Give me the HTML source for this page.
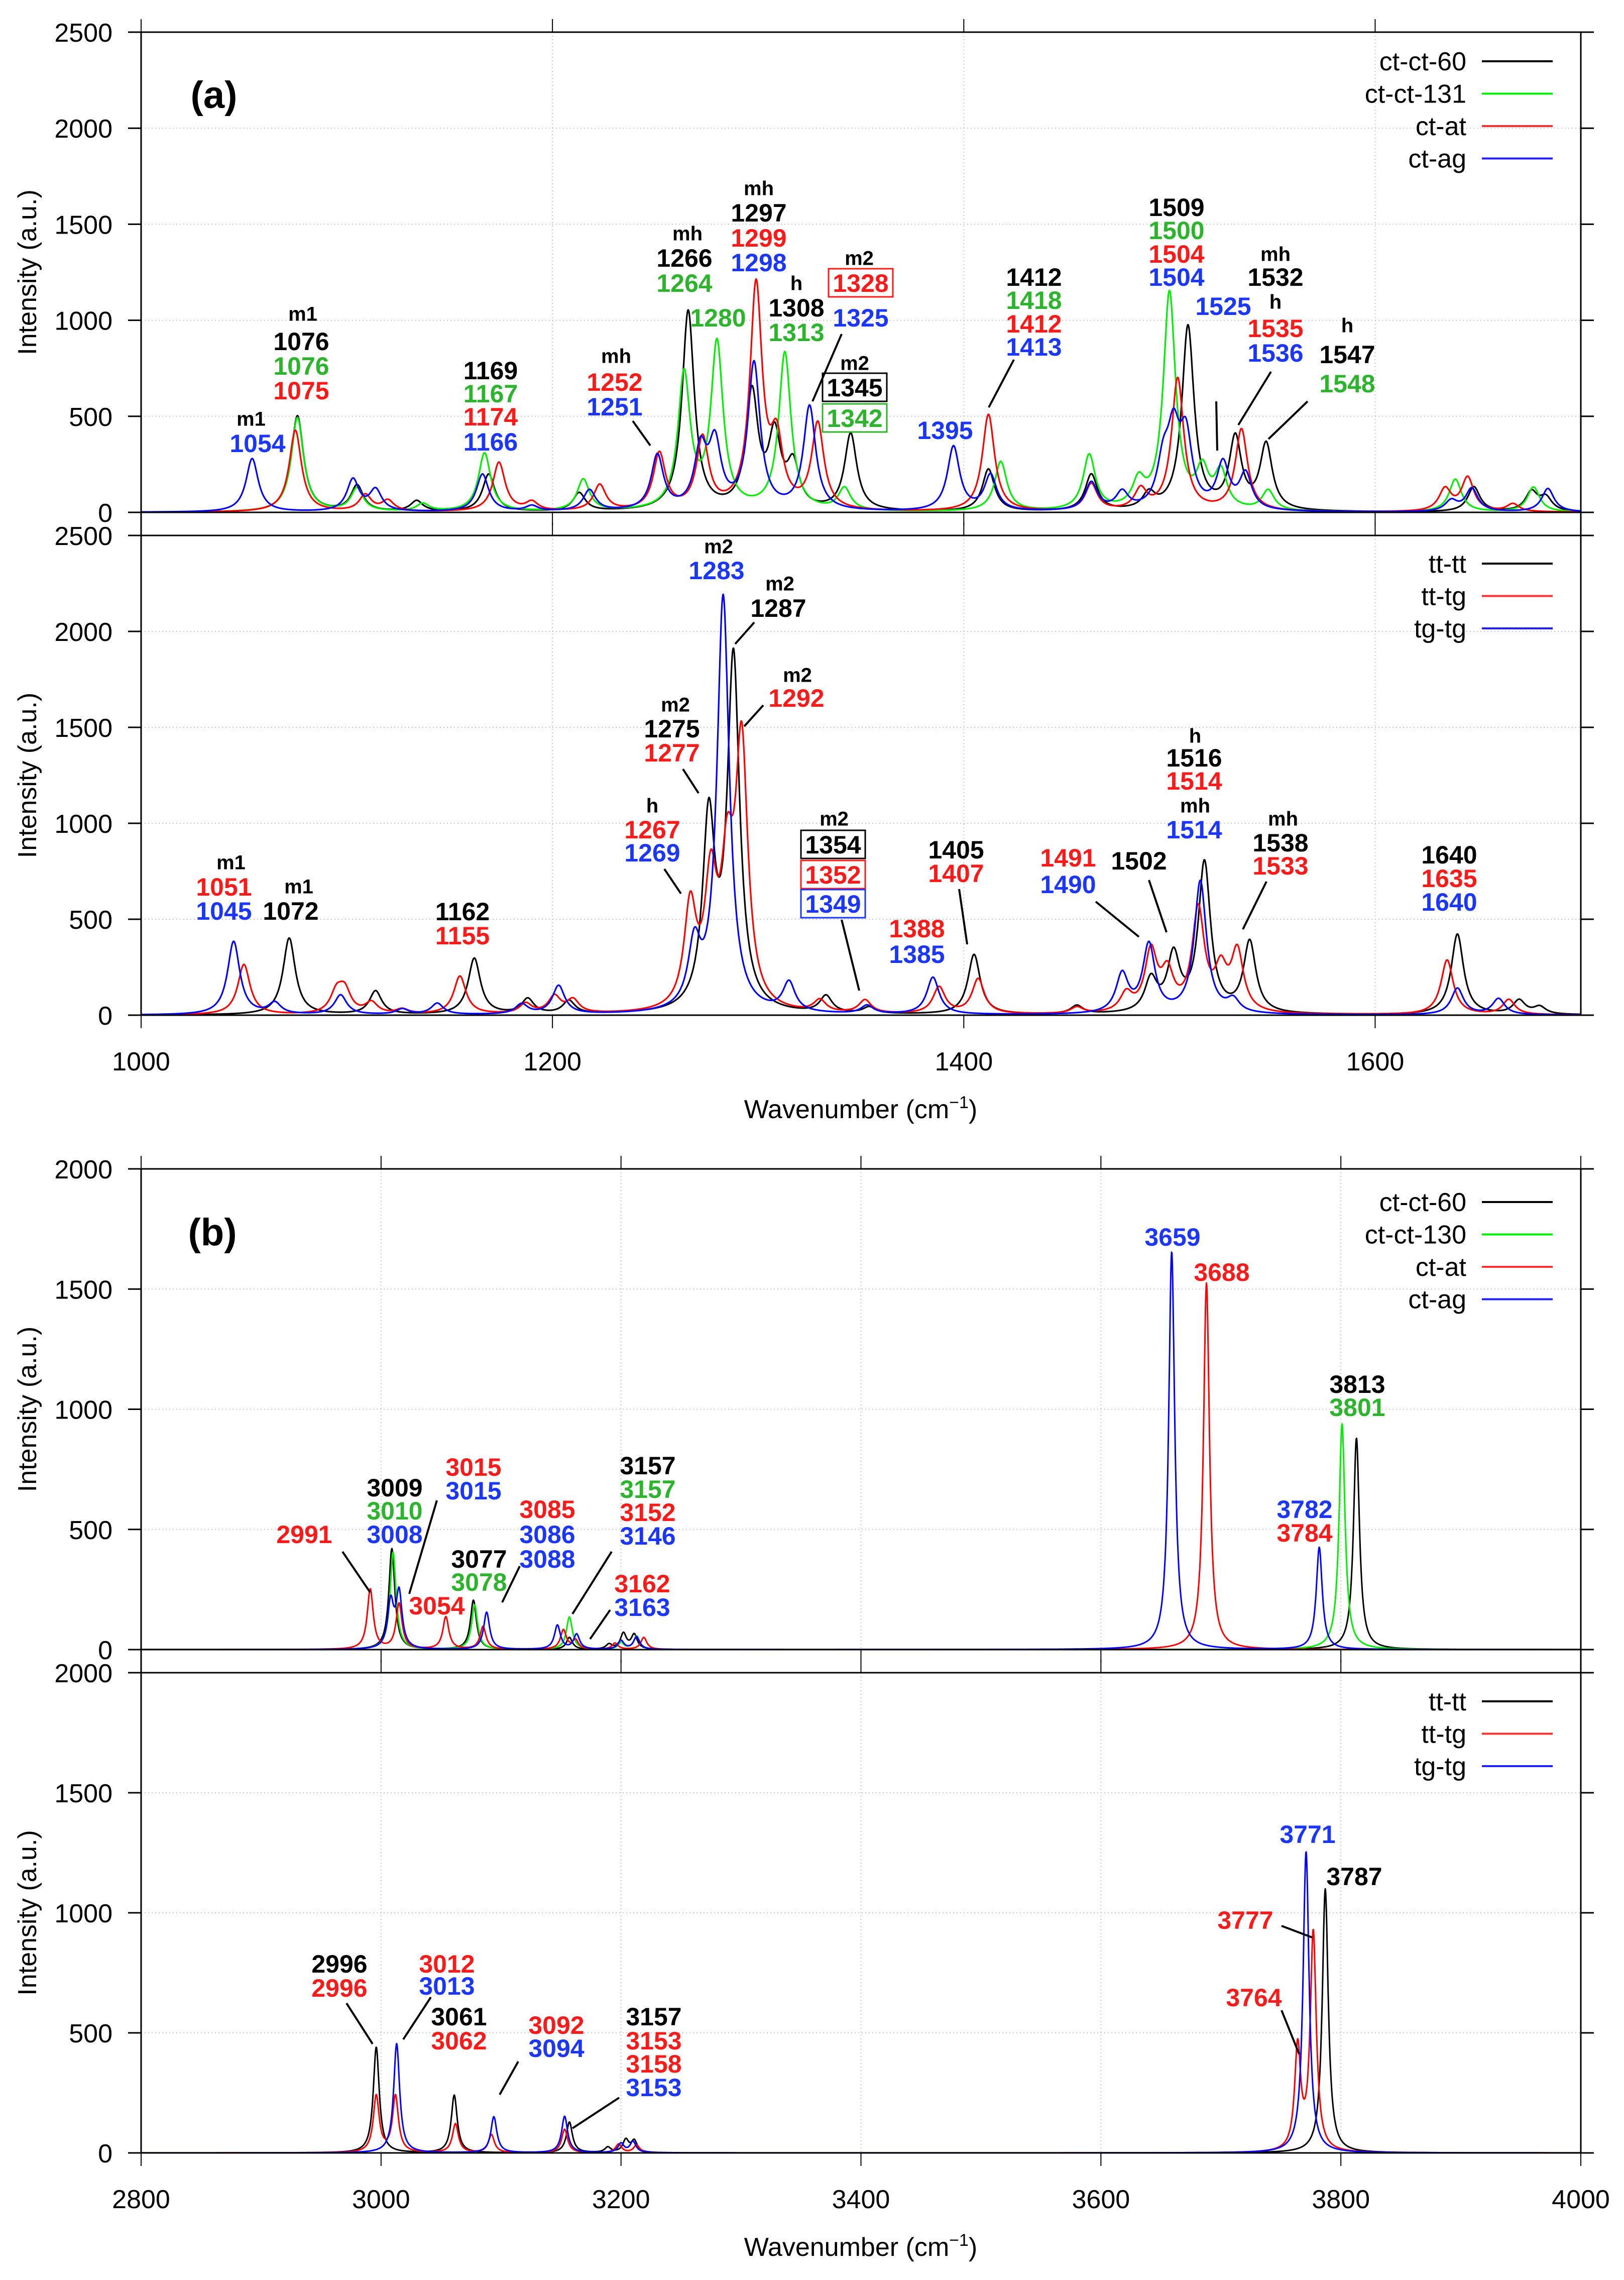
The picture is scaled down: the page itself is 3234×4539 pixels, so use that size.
<!DOCTYPE html>
<html><head><meta charset="utf-8"><style>
html,body{margin:0;padding:0;background:#fff}
svg{display:block}
text{font-family:"Liberation Sans",Arial,sans-serif}
</style></head><body>
<svg id="chart" xmlns="http://www.w3.org/2000/svg" width="3234" height="4539" viewBox="0 0 3234 4539"></svg>
<script>
// ---- Panel (a) top : 1000-1700 cm-1 ----
const aTopBlackPos = [1076,1105,1134,1169,1213,1266,1297,1308,1317,1345,1412,1462,1490,1509,1532,1547,1648,1676,1683];
const aTopBlackInt = [500,135,55,195,95,1040,600,370,220,400,220,190,80,960,370,340,130,100,70];
const aTopGreenPos = [1076,1105,1137,1167,1215,1264,1280,1313,1342,1418,1461,1485,1500,1516,1525,1548,1639,1677];
const aTopGreenInt = [490,120,40,305,165,700,860,820,115,258,288,135,1130,190,190,105,170,130];
const aTopRedPos = [1075,1109,1120,1174,1190,1223,1252,1273,1299,1309,1329,1412,1462,1486,1504,1535,1634,1645,1667];
const aTopRedInt = [425,85,55,255,45,135,295,370,1160,330,445,505,140,105,690,425,115,175,40];
const aTopBluePos = [1054,1103,1114,1166,1190,1218,1251,1272,1279,1298,1325,1395,1413,1462,1477,1497,1502,1508,1526,1537,1637,1647,1684];
const aTopBlueInt = [278,165,110,195,28,110,285,300,330,760,540,335,185,145,90,220,360,360,235,185,55,120,122];
// ---- Panel (a) bottom ----
const aBotBlackPos = [1072,1114,1162,1188,1208,1276,1288,1333,1354,1405,1455,1491,1502,1517,1539,1640,1670,1680];
const aBotBlackInt = [400,122,292,78,68,980,1830,88,33,312,43,170,290,780,370,420,72,38];
const aBotRedPos = [1050,1095,1099,1112,1127,1155,1187,1201,1210,1267,1277,1285,1292,1330,1352,1388,1407,1455,1479,1491,1499,1514,1525,1533,1635,1665];
const aBotRedInt = [262,105,115,58,24,198,52,88,68,520,620,640,1350,62,68,138,182,33,95,310,190,530,200,310,285,78];
const aBotBluePos = [1045,1065,1097,1127,1144,1185,1203,1269,1283,1315,1353,1385,1477,1490,1515,1531,1640,1660];
const aBotBlueInt = [382,58,102,28,58,52,148,320,2170,152,43,193,200,355,690,65,138,83];
// ---- Panel (b) top : 2800-4000 cm-1 ----
const bTopBlackPos = [3009,3077,3157,3190,3202,3211,3813];
const bTopBlackInt = [420,205,50,20,65,60,880];
const bTopGreenPos = [3010,3078,3157,3200,3213,3801];
const bTopGreenInt = [405,185,135,28,55,940];
const bTopRedPos = [2991,3015,3054,3085,3152,3162,3195,3219,3688];
const bTopRedInt = [250,190,135,95,80,38,26,50,1525];
const bTopBluePos = [3008,3015,3088,3147,3163,3200,3213,3659,3782];
const bTopBlueInt = [190,230,155,100,62,36,52,1655,425];
// ---- Panel (b) bottom ----
const bBotBlackPos = [2996,3061,3157,3189,3204,3211,3787];
const bBotBlackInt = [440,240,128,22,52,48,1100];
const bBotRedPos = [2996,3012,3062,3092,3153,3198,3213,3764,3777];
const bBotRedInt = [235,235,120,75,98,36,32,430,910];
const bBotBluePos = [3013,3094,3153,3200,3210,3771];
const bBotBlueInt = [455,150,152,38,46,1255];
// axis ticks
const aXTicks = [1000,1200,1400,1600];
const bXTicks = [2800,3000,3200,3400,3600,3800,4000];
const aYTicks = [0,500,1000,1500,2000,2500];
const bYTicks = [0,500,1000,1500,2000];
const legendATop = ["ct-ct-60","ct-ct-131","ct-at","ct-ag"];
const legendABot = ["tt-tt","tt-tg","tg-tg"];
const legendBTop = ["ct-ct-60","ct-ct-130","ct-at","ct-ag"];
const legendBBot = ["tt-tt","tt-tg","tg-tg"];

const NS="http://www.w3.org/2000/svg";
const svg=document.getElementById('chart');
const L=281,R=3148;
function mk(tag,attrs,parent){const e=document.createElementNS(NS,tag);for(const k in attrs)e.setAttribute(k,attrs[k]);(parent||svg).appendChild(e);return e;}

const panels=[
 {id:'a-top',x0:1000,x1:1700,ymax:2500,top:64,bot:1020,ticks:aYTicks,xt:aXTicks,gamma:3.6,lw:3.2,
  series:[[aTopBlackPos,aTopBlackInt,'#000000'],[aTopGreenPos,aTopGreenInt,'#00ee00'],[aTopRedPos,aTopRedInt,'#ff0000'],[aTopBluePos,aTopBlueInt,'#0000ff']],
  legend:legendATop,legY:122,colors:['#000000','#00ee00','#ff3030','#2020ff']},
 {id:'a-bottom',x0:1000,x1:1700,ymax:2500,top:1066,bot:2021,ticks:aYTicks,xt:aXTicks,gamma:3.6,lw:3.2,
  series:[[aBotBlackPos,aBotBlackInt,'#000000'],[aBotRedPos,aBotRedInt,'#ff0000'],[aBotBluePos,aBotBlueInt,'#0000ff']],
  legend:legendABot,legY:1122,colors:['#000000','#ff3030','#2020ff']},
 {id:'b-top',x0:2800,x1:4000,ymax:2000,top:2327,bot:3284,ticks:bYTicks,xt:bXTicks,gamma:3.0,lw:3,
  series:[[bTopBlackPos,bTopBlackInt,'#000000'],[bTopGreenPos,bTopGreenInt,'#00ee00'],[bTopRedPos,bTopRedInt,'#ff0000'],[bTopBluePos,bTopBlueInt,'#0000ff']],
  legend:legendBTop,legY:2393,colors:['#000000','#00ee00','#ff3030','#2020ff']},
 {id:'b-bottom',x0:2800,x1:4000,ymax:2000,top:3330,bot:4286,ticks:bYTicks,xt:bXTicks,gamma:3.0,lw:3,
  series:[[bBotBlackPos,bBotBlackInt,'#000000'],[bBotRedPos,bBotRedInt,'#ff0000'],[bBotBluePos,bBotBlueInt,'#0000ff']],
  legend:legendBBot,legY:3387,colors:['#000000','#ff3030','#2020ff']}
];

panels.forEach((p,pi)=>{
  const xs=w=>L+(w-p.x0)/(p.x1-p.x0)*(R-L);
  const ys=v=>p.bot-v/p.ymax*(p.bot-p.top);
  const g=mk('g',{});
  
  
  const cp=mk('clipPath',{id:'clip'+pi},g);
  mk('rect',{x:L,y:p.top,width:R-L,height:p.bot-p.top},cp);
  p.ticks.forEach(t=>{
    if(t>0&&t<p.ymax){const gl=mk('line',{x1:L,x2:R,y1:ys(t),y2:ys(t),stroke:'#c8c8c8','stroke-width':2,'stroke-dasharray':'2,5'},g);
    
    }
  });
  p.xt.forEach(t=>{
    if(t>p.x0&&t<p.x1){const gl=mk('line',{x1:xs(t),x2:xs(t),y1:p.top,y2:p.bot,stroke:'#c8c8c8','stroke-width':2,'stroke-dasharray':'2,5'},g);
    
    }
  });
  p.series.forEach((s,si)=>{
    const [pos,ints,col]=s;
    let d='';
    const step=(p.x1-p.x0)/4000;
    for(let w=p.x0;w<=p.x1+1e-9;w+=step){
      let v=0;
      for(let k=0;k<pos.length;k++){const dx=(w-pos[k])/p.gamma;v+=ints[k]/(1+dx*dx);}
      d+=(d?'L':'M')+xs(w).toFixed(1)+' '+ys(v).toFixed(1);
    }
    const path=mk('path',{d:d,fill:'none',stroke:col,'stroke-width':p.lw,'stroke-linejoin':'round','clip-path':'url(#clip'+pi+')'},g);
    
    
  });
  const fr=mk('rect',{x:L,y:p.top,width:R-L,height:p.bot-p.top,fill:'none',stroke:'#000','stroke-width':3},g);
  
  
  p.ticks.forEach(t=>{
    mk('line',{x1:L-26,x2:L,y1:ys(t),y2:ys(t),stroke:'#000','stroke-width':3},g);
    mk('line',{x1:R,x2:R+26,y1:ys(t),y2:ys(t),stroke:'#000','stroke-width':3},g);
    const tl=mk('text',{x:224,y:ys(t)+19,'text-anchor':'end','font-size':52,fill:'#000'},g);
    tl.textContent=t;
    
    
  });
  p.xt.forEach(t=>{
    mk('line',{x1:xs(t),x2:xs(t),y1:p.top-26,y2:p.top,stroke:'#000','stroke-width':2},g);
    mk('line',{x1:xs(t),x2:xs(t),y1:p.bot,y2:p.bot+26,stroke:'#000','stroke-width':2},g);
  });
  const cy=(p.top+p.bot)/2;
  const yt=mk('text',{x:0,y:0,transform:'translate(72,'+cy+') rotate(-90)','text-anchor':'middle','font-size':52,fill:'#000'},g);
  yt.textContent='Intensity (a.u.)';
  
  
  p.legend.forEach((name,i)=>{
    const ly=p.legY+i*64.5;
    const lt=mk('text',{x:2920,y:ly+18,'text-anchor':'end','font-size':52,fill:'#000'},g);
    lt.textContent=name;
    
    
    const ll=mk('line',{x1:2951,x2:3092,y1:ly,y2:ly,stroke:p.colors[i],'stroke-width':4},g);
    
    
  });
  if(pi===1||pi===3){
    const ty=pi===1?2131:4396;
    p.xt.forEach(t=>{
      const xl=mk('text',{x:xs(t),y:ty,'text-anchor':'middle','font-size':52,fill:'#000'},g);
      xl.textContent=t;
      
      
    });
    const xt=mk('text',{x:1714,y:(pi===1?2226:4491),'text-anchor':'middle','font-size':52,fill:'#000'},g);
    xt.innerHTML='Wavenumber (cm<tspan dy="-20" font-size="34">−1</tspan><tspan dy="20">)</tspan>';
    
    
  }
});
mk('line',{x1:L,x2:L,y1:64,y2:2021,stroke:'#000','stroke-width':3});
mk('line',{x1:R,x2:R,y1:64,y2:2021,stroke:'#000','stroke-width':3});
mk('line',{x1:L,x2:L,y1:2327,y2:4286,stroke:'#000','stroke-width':3});
mk('line',{x1:R,x2:R,y1:2327,y2:4286,stroke:'#000','stroke-width':3});

[['(a)',426,188],['(b)',423,2452]].forEach(a=>{
  const t=mk('text',{x:a[1],y:a[2]+27,'text-anchor':'middle','font-size':76,'font-weight':'bold',fill:'#000'});
  t.textContent=a[0];
  
  
});

const C={k:'#000000',g:'#2cb52c',r:'#ff1a1a',b:'#1a36ff'};
const annotations=[
 ['m1',500,833,'k','s'],['1054',513,882,'b'],
 ['m1',603,624,'k','s'],['1076',600,679,'k'],['1076',600,728,'g'],['1075',600,777,'r'],
 ['1169',977,737,'k'],['1167',977,783,'g'],['1174',977,829,'r'],['1166',977,879,'b'],
 ['mh',1227,708,'k','s'],['1252',1224,760,'r'],['1251',1224,809,'b'],
 ['mh',1369,464,'k','s'],['1266',1363,513,'k'],['1264',1363,563,'g'],
 ['1280',1430,632,'g'],
 ['mh',1511,374,'k','s'],['1297',1511,423,'k'],['1299',1511,473,'r'],['1298',1511,522,'b'],
 ['h',1586,563,'k','s'],['1308',1586,612,'k'],['1313',1586,661,'g'],
 ['m2',1711,513,'k','s'],['1328',1714,563,'r','n',1],['1325',1714,632,'b'],
 ['m2',1702,722,'k','s'],['1345',1702,771,'k','n',1],['1342',1702,832,'g','n',1],
 ['1395',1882,856,'b'],
 ['1412',2059,551,'k'],['1418',2059,597,'g'],['1412',2059,644,'r'],['1413',2059,690,'b'],
 ['1509',2343,412,'k'],['1500',2343,458,'g'],['1504',2343,505,'r'],['1504',2343,551,'b'],
 ['mh',2540,505,'k','s'],['1532',2540,551,'k'],['h',2540,600,'k','s'],['1535',2540,653,'r'],['1536',2540,702,'b'],
 ['1525',2436,609,'b'],
 ['h',2683,647,'k','s'],['1547',2683,705,'k'],['1548',2683,763,'g'],
 ['m1',460,1716,'k','s'],['1051',446,1765,'r'],['1045',446,1813,'b'],
 ['m1',595,1764,'k','s'],['1072',579,1813,'k'],
 ['1162',921,1814,'k'],['1155',921,1862,'r'],
 ['h',1299,1603,'k','s'],['1267',1299,1651,'r'],['1269',1299,1697,'b'],
 ['m2',1345,1402,'k','s'],['1275',1338,1450,'k'],['1277',1338,1498,'r'],
 ['m2',1431,1087,'k','s'],['1283',1427,1135,'b'],
 ['m2',1553,1161,'k','s'],['1287',1550,1210,'k'],
 ['m2',1588,1343,'k','s'],['1292',1586,1389,'r'],
 ['m2',1661,1629,'k','s'],['1354',1659,1681,'k','n',1],['1352',1659,1741,'r','n',1],['1349',1659,1799,'b','n',1],
 ['1388',1826,1848,'r'],['1385',1826,1899,'b'],
 ['1405',1904,1691,'k'],['1407',1904,1738,'r'],
 ['1491',2127,1707,'r'],['1490',2127,1760,'b'],['1502',2268,1713,'k'],
 ['h',2380,1464,'k','s'],['1516',2378,1508,'k'],['1514',2378,1554,'r'],['mh',2380,1603,'k','s'],['1514',2378,1651,'b'],
 ['mh',2555,1629,'k','s'],['1538',2550,1677,'k'],['1533',2550,1723,'r'],
 ['1640',2886,1701,'k'],['1635',2886,1748,'r'],['1640',2886,1795,'b'],
 ['2991',606,3054,'r'],
 ['3009',786,2961,'k'],['3010',786,3007,'g'],['3008',786,3054,'b'],
 ['3015',943,2920,'r'],['3015',943,2967,'b'],
 ['3077',954,3103,'k'],['3078',954,3149,'g'],['3054',870,3196,'r'],
 ['3085',1090,3004,'r'],['3086',1090,3054,'b'],['3088',1090,3103,'b'],
 ['3157',1290,2917,'k'],['3157',1290,2964,'g'],['3152',1290,3010,'r'],['3146',1290,3057,'b'],
 ['3162',1279,3152,'r'],['3163',1279,3199,'b'],
 ['3659',2335,2462,'b'],['3688',2433,2532,'r'],
 ['3813',2703,2755,'k'],['3801',2703,2801,'g'],
 ['3782',2598,3004,'b'],['3784',2598,3051,'r'],
 ['2996',676,3909,'k'],['2996',676,3957,'r'],
 ['3012',890,3909,'r'],['3013',890,3953,'b'],
 ['3061',914,4014,'k'],['3062',914,4062,'r'],
 ['3092',1108,4031,'r'],['3094',1108,4077,'b'],
 ['3157',1302,4014,'k'],['3153',1302,4062,'r'],['3158',1302,4108,'r'],['3153',1302,4155,'b'],
 ['3777',2480,3822,'r'],['3771',2604,3651,'b'],['3787',2697,3735,'k'],['3764',2497,3976,'r']
];
annotations.forEach(a=>{
  const small=a[4]==='s';
  const fs=small?40:50;
  if(a[5]){
    const bx=mk('rect',{x:a[1]-64,y:a[2]-28,width:128,height:56,fill:'#fff',stroke:C[a[3]],'stroke-width':3});
    
    
  }
  const t=mk('text',{x:a[1],y:a[2]+fs*0.36,'text-anchor':'middle','font-size':fs,'font-weight':'bold',fill:C[a[3]]});
  t.textContent=a[0];
  
  
});
const leaders=[
 [1260,838,1295,887],[1676,665,1618,799],[2019,716,1969,811],[2422,799,2424,897],[2531,740,2466,846],[2604,799,2526,874],
 [1323,1730,1356,1779],[1360,1531,1391,1579],[1502,1239,1464,1282],[1520,1404,1482,1446],[1676,1831,1711,1972],
 [1910,1770,1926,1880],[2182,1795,2268,1865],[2288,1752,2323,1856],[2522,1755,2475,1850],
 [682,3089,737,3170],[870,2987,815,3173],[1035,3118,1000,3190],[1218,3089,1140,3213],[1215,3205,1175,3263],
 [690,3988,742,4069],[858,3976,803,4060],[1032,4104,995,4170],[1233,4176,1140,4237],[2552,3834,2613,3857],[2552,4002,2587,4089]
];
leaders.forEach(l=>{
  const ln=mk('line',{x1:l[0],y1:l[1],x2:l[2],y2:l[3],stroke:'#000','stroke-width':4});
  
  
});
</script>
</body></html>
